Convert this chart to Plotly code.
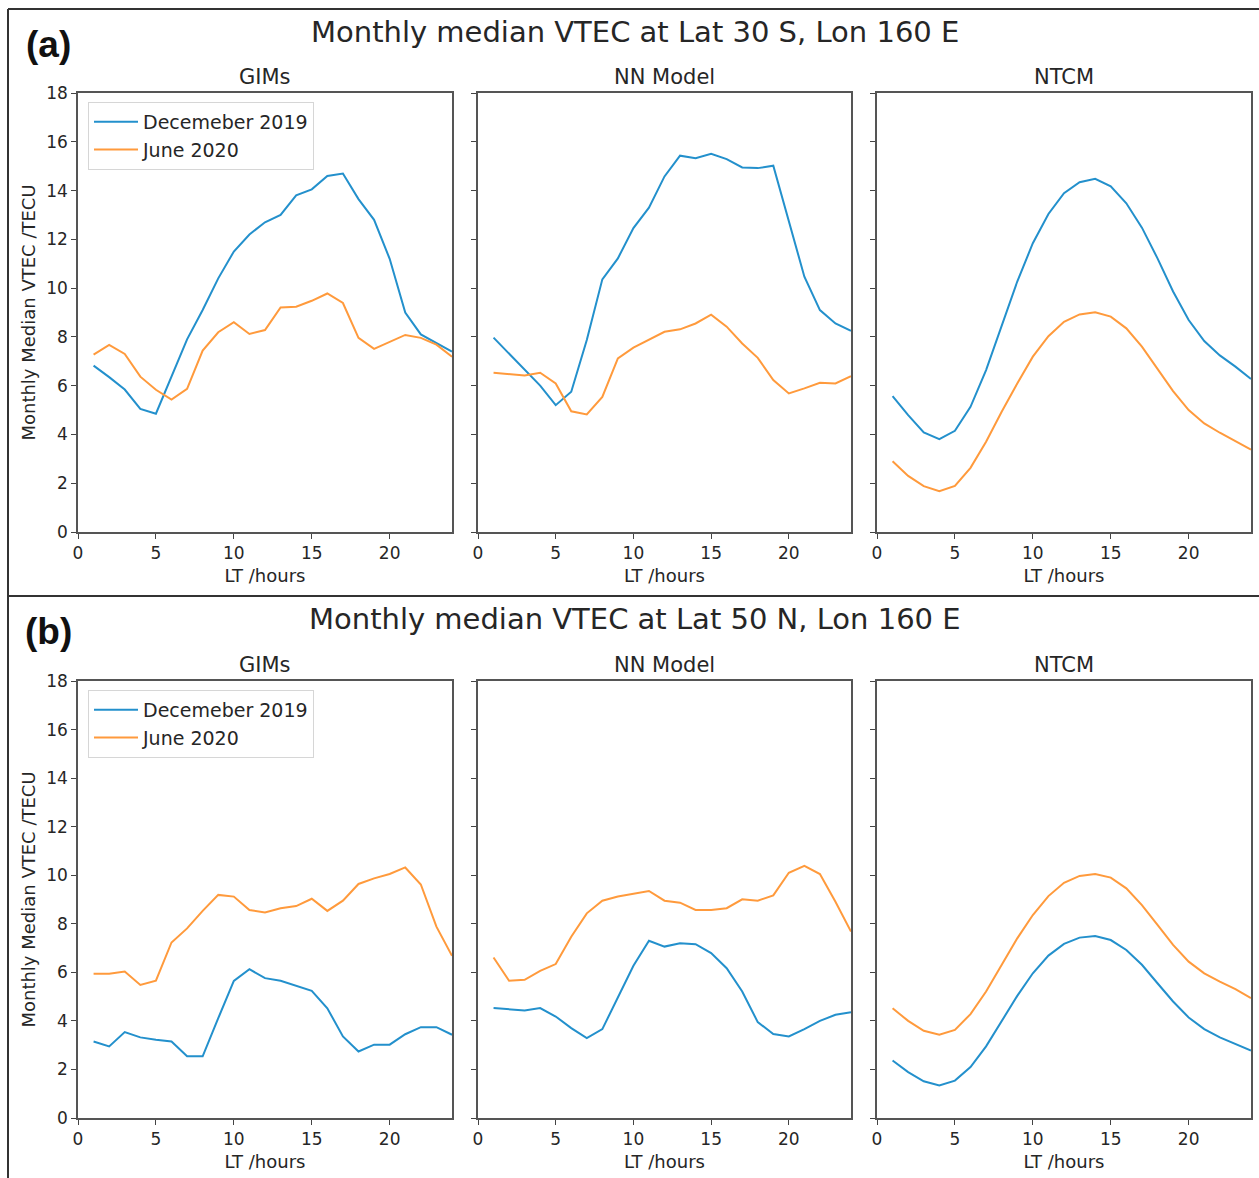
import plotly.graph_objects as go

# Local time (hours)
lt = list(range(1, 25))

# (a) Lat 30 S, Lon 160 E
gims_a_dec = [6.82, 6.35, 5.84, 5.05, 4.85, 6.4, 7.9, 9.1, 10.4, 11.5, 12.2, 12.7,
              13.0, 13.8, 14.05, 14.6, 14.7, 13.65, 12.8, 11.2, 9.0, 8.1, 7.75, 7.4]
gims_a_jun = [7.27, 7.67, 7.3, 6.37, 5.83, 5.43, 5.87, 7.44, 8.19, 8.6, 8.12, 8.28,
              9.21, 9.24, 9.48, 9.78, 9.39, 7.96, 7.51, 7.78, 8.08, 7.96, 7.68, 7.19]
nn_a_dec = [7.97, 7.3, 6.65, 6.0, 5.2, 5.75, 7.87, 10.36, 11.22, 12.46, 13.3, 14.58,
            15.43, 15.33, 15.51, 15.29, 14.95, 14.92, 15.02, 12.8, 10.47, 9.1, 8.55, 8.25]
nn_a_jun = [6.53, 6.49, 6.42, 6.53, 6.09, 4.95, 4.82, 5.54, 7.12, 7.56, 7.87, 8.21,
            8.31, 8.55, 8.91, 8.42, 7.73, 7.14, 6.23, 5.68, 5.89, 6.12, 6.09, 6.39]
ntcm_a_dec = [5.57, 4.79, 4.08, 3.81, 4.15, 5.13, 6.64, 8.42, 10.27, 11.84, 13.04, 13.89,
              14.34, 14.48, 14.17, 13.48, 12.48, 11.22, 9.86, 8.69, 7.83, 7.24, 6.78, 6.27]
ntcm_a_jun = [2.9, 2.3, 1.88, 1.67, 1.89, 2.63, 3.7, 4.93, 6.09, 7.19, 8.03, 8.62,
              8.92, 9.01, 8.83, 8.35, 7.6, 6.67, 5.78, 5.0, 4.45, 4.07, 3.74, 3.38]

# (b) Lat 50 N, Lon 160 E
gims_b_dec = [3.15, 2.95, 3.54, 3.32, 3.22, 3.15, 2.54, 2.54, 4.11, 5.65, 6.13, 5.76,
              5.65, 5.44, 5.24, 4.52, 3.36, 2.74, 3.02, 3.02, 3.45, 3.74, 3.74, 3.43]
gims_b_jun = [5.94, 5.94, 6.03, 5.48, 5.66, 7.23, 7.81, 8.53, 9.19, 9.12, 8.57, 8.47,
              8.64, 8.73, 9.03, 8.53, 8.95, 9.64, 9.87, 10.05, 10.32, 9.62, 7.88, 6.68]
nn_b_dec = [4.53, 4.49, 4.43, 4.53, 4.18, 3.7, 3.29, 3.66, 5.0, 6.27, 7.3, 7.06,
            7.2, 7.16, 6.79, 6.17, 5.21, 3.95, 3.46, 3.36, 3.66, 4.0, 4.25, 4.36]
nn_b_jun = [6.61, 5.65, 5.69, 6.06, 6.34, 7.47, 8.43, 8.95, 9.12, 9.25, 9.35, 8.95,
            8.87, 8.57, 8.57, 8.64, 9.01, 8.95, 9.17, 10.1, 10.39, 10.05, 8.91, 7.68]
ntcm_b_dec = [2.37, 1.89, 1.51, 1.34, 1.54, 2.1, 2.95, 3.98, 5.03, 5.96, 6.69, 7.17,
              7.43, 7.5, 7.33, 6.92, 6.31, 5.55, 4.8, 4.14, 3.66, 3.32, 3.06, 2.78]
ntcm_b_jun = [4.52, 4.0, 3.59, 3.43, 3.63, 4.28, 5.21, 6.31, 7.4, 8.36, 9.14, 9.69,
              9.97, 10.05, 9.9, 9.46, 8.77, 7.95, 7.13, 6.44, 5.96, 5.62, 5.31, 4.94]

series_names = ["Decemeber 2019", "June 2020"]
model_names = ["GIMs", "NN Model", "NTCM"]
section_titles = ["Monthly median VTEC at Lat 30 S, Lon 160 E",
                  "Monthly median VTEC at Lat 50 N, Lon 160 E"]
section_tags = ["(a)", "(b)"]
x_ticks = [0, 5, 10, 15, 20]
y_ticks = [0, 2, 4, 6, 8, 10, 12, 14, 16, 18]

panels = [
    [(gims_a_dec, gims_a_jun), (nn_a_dec, nn_a_jun), (ntcm_a_dec, ntcm_a_jun)],
    [(gims_b_dec, gims_b_jun), (nn_b_dec, nn_b_jun), (ntcm_b_dec, ntcm_b_jun)],
]

W, H = 1259, 1178
BLUE = "#2390cc"
ORANGE = "#ff9a3c"
FONT = "DejaVu Sans"
TXT = "#262626"


def px(x):
    return x / W


def py(y):
    return 1 - y / H


# panel geometry in pixels
col_x = [(78, 452), (478, 851), (877, 1251)]
row_y = [(93, 532), (681, 1118)]

fig = go.Figure()
layout = {}
annotations = []

for r in range(2):
    for c in range(3):
        k = r * 3 + c + 1
        xa = "xaxis" if k == 1 else f"xaxis{k}"
        ya = "yaxis" if k == 1 else f"yaxis{k}"
        xref = "x" if k == 1 else f"x{k}"
        yref = "y" if k == 1 else f"y{k}"
        dec, jun = panels[r][c]
        legend_id = "legend" if r == 0 else "legend2"
        for vals, name, col in ((dec, series_names[0], BLUE), (jun, series_names[1], ORANGE)):
            fig.add_trace(go.Scatter(
                x=lt, y=vals, mode="lines", name=name,
                line=dict(color=col, width=2),
                xaxis=xref, yaxis=yref,
                showlegend=(c == 0), legend=legend_id,
            ))
        x0, x1 = col_x[c]
        y0, y1 = row_y[r]
        layout[xa] = dict(
            domain=[px(x0), px(x1)], range=[0, 24], anchor=yref,
            tickvals=x_ticks, ticks="outside", ticklen=5, tickwidth=1.2,
            tickcolor="#444", showline=True, mirror=True, linecolor="#555",
            linewidth=1.5, showgrid=False, zeroline=False,
            tickfont=dict(family=FONT, size=17, color=TXT),
            title=dict(text="LT /hours", standoff=7,
                       font=dict(family=FONT, size=18, color=TXT)),
            automargin=False, fixedrange=True,
        )
        layout[ya] = dict(
            domain=[py(y1), py(y0)], range=[0, 18], anchor=xref,
            tickvals=y_ticks, ticks="outside", ticklen=5, tickwidth=1.2,
            tickcolor="#444", showline=True, mirror=True, linecolor="#555",
            linewidth=1.5, showgrid=False, zeroline=False,
            showticklabels=(c == 0),
            tickfont=dict(family=FONT, size=17, color=TXT),
            automargin=False, fixedrange=True,
        )
        if c == 0:
            layout[ya]["title"] = dict(
                text="Monthly Median VTEC /TECU", standoff=6,
                font=dict(family=FONT, size=18, color=TXT))
        # panel subtitle
        annotations.append(dict(
            text=model_names[c], x=px((x0 + x1) / 2), y=py(y0 - 16),
            xref="paper", yref="paper", xanchor="center", yanchor="middle",
            showarrow=False, font=dict(family=FONT, size=21, color=TXT)))

    # section title and tag
    top = [32, 619][r]
    annotations.append(dict(
        text=section_titles[r], x=px(635), y=py(top), xref="paper", yref="paper",
        xanchor="center", yanchor="middle", showarrow=False,
        font=dict(family=FONT, size=29, color=TXT)))
    annotations.append(dict(
        text="<b>" + section_tags[r] + "</b>", x=px(48), y=py(top + 12),
        xref="paper", yref="paper", xanchor="center", yanchor="middle",
        showarrow=False, font=dict(family="Liberation Sans", size=37, color="#111")))

legend_style = dict(
    xanchor="left", yanchor="top", bgcolor="rgba(255,255,255,0.85)",
    bordercolor="#d6d6d6", borderwidth=1, itemwidth=44,
    font=dict(family=FONT, size=19, color=TXT),
)
layout["legend"] = dict(x=px(88), y=py(102), **legend_style)
layout["legend2"] = dict(x=px(88), y=py(690), **legend_style)

# frame lines around the two sections
frame = dict(color="#333", width=2)
shapes = [
    dict(type="line", xref="paper", yref="paper", x0=px(8), x1=1, y0=py(9), y1=py(9), line=frame),
    dict(type="line", xref="paper", yref="paper", x0=px(8), x1=px(8), y0=py(9), y1=0, line=frame),
    dict(type="line", xref="paper", yref="paper", x0=px(8), x1=1, y0=py(596), y1=py(596), line=frame),
]

fig.update_layout(
    width=W, height=H, margin=dict(l=0, r=0, t=0, b=0),
    paper_bgcolor="white", plot_bgcolor="white",
    annotations=annotations, shapes=shapes, showlegend=True,
    **layout,
)

fig.write_html("out.html", config={"displayModeBar": False})
